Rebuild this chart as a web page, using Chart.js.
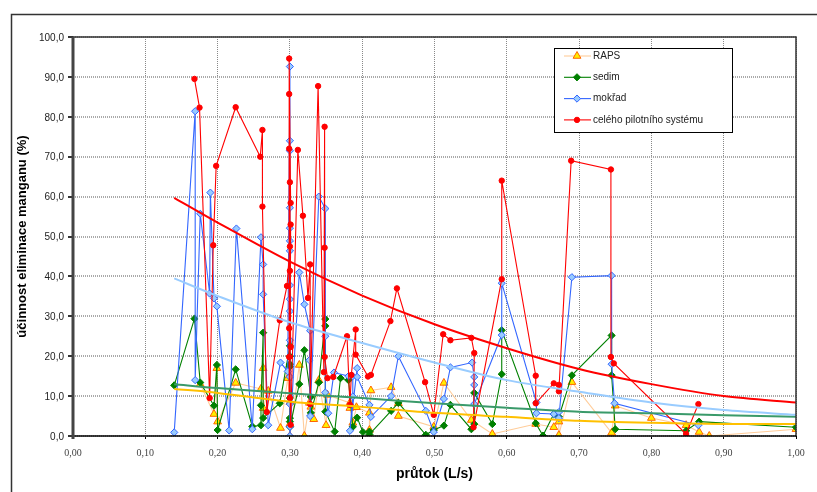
<!DOCTYPE html>
<html>
<head>
<meta charset="utf-8">
<title>účinnost eliminace manganu</title>
<script src="https://cdn.jsdelivr.net/npm/chart.js@4"></script>
<style>
  html, body { margin: 0; padding: 0; background: #fff; }
  #wrap { width: 817px; height: 492px; }
</style>
</head>
<body>
<div id="wrap"><canvas id="chart" width="817" height="492"></canvas></div>
<script>
// values
const rapsX = [0.176, 0.195, 0.199, 0.2, 0.225, 0.26, 0.263, 0.263, 0.27, 0.287, 0.297, 0.3, 0.3, 0.3, 0.313, 0.32, 0.327, 0.329, 0.333, 0.34, 0.35, 0.352, 0.383, 0.383, 0.387, 0.392, 0.41, 0.41, 0.41, 0.412, 0.44, 0.45, 0.45, 0.499, 0.513, 0.551, 0.58, 0.64, 0.665, 0.672, 0.672, 0.69, 0.745, 0.75, 0.8, 0.848, 0.866, 0.88, 1.0];
const rapsY = [13, 5.5, 17, 3.6, 13.3, 11.8, 17, 7, 11.3, 2, 14.5, 8.5, 3, 0, 17.8, 0, 8.3, 7.3, 4.2, 14, 2.7, 10.3, 8.3, 7, 3.3, 7.2, 5.8, 1.5, 0.2, 11.4, 12.2, 8.2, 5, 2.3, 13.3, 4, 0.5, 3, 2.2, 3.6, 0.2, 13.5, 0.8, 7.6, 4.5, 2.7, 1, 0, 1.7];

const sedimX = [0.14, 0.168, 0.176, 0.195, 0.199, 0.2, 0.225, 0.248, 0.26, 0.26, 0.263, 0.263, 0.286, 0.3, 0.3, 0.3, 0.3, 0.3, 0.3, 0.3, 0.3, 0.313, 0.32, 0.329, 0.329, 0.34, 0.349, 0.349, 0.349, 0.362, 0.37, 0.381, 0.387, 0.393, 0.401, 0.41, 0.41, 0.44, 0.45, 0.488, 0.499, 0.513, 0.522, 0.551, 0.555, 0.555, 0.58, 0.593, 0.593, 0.64, 0.65, 0.665, 0.672, 0.69, 0.745, 0.745, 0.75, 0.848, 0.866, 1.0];
const sedimY = [12.7, 29.4, 13.4, 7.6, 17.8, 1.5, 16.7, 2.4, 2.7, 7.7, 25.9, 4.5, 8.2, 22.6, 20, 18, 17.4, 9.5, 4.5, 3.6, 2.3, 13, 21.5, 9.8, 5.8, 13.4, 29.3, 27.6, 6.1, 1.1, 14.5, 14, 2.3, 4.6, 1, 1.1, 0.4, 6.3, 8.3, 0.3, 1.5, 2.6, 7.8, 1.7, 3, 10.8, 3, 15.5, 26.5, 3.2, 0.1, 5.5, 4.8, 15.2, 25.2, 15.2, 1.7, 1.3, 3.6, 2.2];

const mokradX = [0.14, 0.169, 0.169, 0.176, 0.189, 0.19, 0.195, 0.199, 0.216, 0.226, 0.248, 0.26, 0.263, 0.263, 0.27, 0.287, 0.297, 0.3, 0.3, 0.3, 0.3, 0.3, 0.3, 0.3, 0.3, 0.3, 0.3, 0.3, 0.3, 0.3, 0.3, 0.3, 0.313, 0.32, 0.328, 0.327, 0.328, 0.34, 0.349, 0.349, 0.349, 0.353, 0.361, 0.381, 0.387, 0.387, 0.383, 0.393, 0.393, 0.41, 0.412, 0.44, 0.45, 0.488, 0.499, 0.513, 0.522, 0.552, 0.555, 0.555, 0.555, 0.593, 0.593, 0.641, 0.641, 0.665, 0.672, 0.672, 0.69, 0.745, 0.745, 0.749, 0.865];
const mokradY = [0.9, 81.4, 14, 55.7, 35.7, 61, 34.5, 32.5, 1.4, 52, 1.7, 49.8, 43, 35.5, 2.7, 18.4, 16.2, 92.6, 74, 71.5, 57.2, 52.1, 48.9, 46.4, 37.8, 34.3, 31.3, 24, 14.8, 8, 2.3, 0, 41, 33, 26.4, 19, 5, 60, 57, 25, 10.9, 5.7, 15.9, 15, 15, 9.9, 1.3, 17, 14.8, 7.8, 4.8, 10, 20, 6.3, 1, 9.3, 17.2, 18.4, 14.8, 12.8, 8, 25.3, 38.3, 8.4, 5.7, 5.5, 6, 4.5, 39.8, 40.2, 18, 8.2, 2.7];

const celyX = [0.168, 0.175, 0.189, 0.194, 0.198, 0.225, 0.259, 0.262, 0.262, 0.268, 0.286, 0.296, 0.3, 0.299, 0.301, 0.299, 0.3, 0.299, 0.301, 0.3, 0.299, 0.301, 0.3, 0.299, 0.301, 0.311, 0.318, 0.325, 0.328, 0.328, 0.339, 0.347, 0.348, 0.348, 0.348, 0.352, 0.36, 0.379, 0.383, 0.385, 0.391, 0.391, 0.408, 0.412, 0.439, 0.448, 0.487, 0.499, 0.512, 0.522, 0.551, 0.555, 0.554, 0.593, 0.593, 0.64, 0.64, 0.665, 0.672, 0.672, 0.689, 0.744, 0.744, 0.748, 0.848, 0.865];
const celyY = [89.5, 82.3, 9.5, 47.8, 67.7, 82.4, 70, 76.7, 57.5, 6, 29, 37.6, 47.5, 94.6, 58.4, 85.7, 41.4, 72, 22.3, 63.6, 19.8, 53, 9.5, 27, 2.8, 71.7, 55.2, 34.6, 43, 8, 87.7, 16, 77.5, 47.2, 19.8, 14.5, 14.8, 25, 7.8, 15.3, 26.7, 20.4, 14.9, 15.3, 28.8, 37, 13.5, 5.3, 25.5, 24, 24.6, 20.8, 2.2, 39.3, 64, 15.1, 8.2, 13.2, 12.8, 11.2, 69, 66.8, 19.8, 18.2, 0.5, 8];

// trend lines, sampled along the reference curves
const trendX = [0.14, 0.2, 0.3, 0.4, 0.5, 0.6, 0.7, 0.8, 0.9, 1.0];
const trendRaps = [11.8, 10.8, 8.6, 7.3, 5.8, 4.8, 3.8, 3.3, 3.0, 3.0];
const trendSedim = [13, 12, 10.7, 9.5, 8.2, 7.1, 6.1, 5.7, 5.2, 4.8];
const trendMokrad = [39.5, 35.1, 28.5, 23.3, 18.4, 14, 11.1, 8.4, 6.5, 5.3];
const trendCely = [59.7, 53.5, 43.7, 35.2, 28, 22, 16.8, 13, 10, 8.4];

const xTicks = [0, 0.1, 0.2, 0.3, 0.4, 0.5, 0.6, 0.7, 0.8, 0.9, 1];
const legendNames = ["RAPS", "sedim", "mokřad", "celého pilotního systému"];

function pts(xs, ys) {
  return xs.map((x, i) => ({ x: x, y: ys[i] }));
}

function series(label, xs, ys, line, fill, border, style, radius, order) {
  return {
    label: label,
    data: pts(xs, ys),
    showLine: true,
    tension: 0,
    borderColor: line,
    borderWidth: 1.1,
    pointStyle: style,
    pointRadius: radius,
    pointBackgroundColor: fill,
    pointBorderColor: border,
    pointBorderWidth: 1,
    order: order,
  };
}

function trend(xs, ys, color, order) {
  return {
    data: pts(xs, ys),
    showLine: true,
    tension: 0.3,
    borderColor: color,
    borderWidth: 2,
    pointRadius: 0,
    order: order,
  };
}

const datasets = [
  series(legendNames[0], rapsX, rapsY, "#ffcc99", "#ffee00", "#ff6600", "triangle", 4.5, 8),
  series(legendNames[1], sedimX, sedimY, "#008000", "#008000", "#008000", "rectRot", 3.6, 7),
  series(legendNames[2], mokradX, mokradY, "#3366ff", "#99ccff", "#3366ff", "rectRot", 3.6, 6),
  series(legendNames[3], celyX, celyY, "#ff0000", "#ff0000", "#ff0000", "circle", 2.7, 5),
  trend(trendX, trendRaps, "#ffc000", 4),
  trend(trendX, trendSedim, "#3a9a6a", 3),
  trend(trendX, trendMokrad, "#99ccff", 2),
  trend(trendX, trendCely, "#ff0000", 1),
];

// outer frame (runs off the right and bottom of the picture) and the plot border
const framePlugin = {
  id: "frame",
  beforeDraw(chart) {
    const c = chart.ctx;
    c.save();
    c.fillStyle = "#fff";
    c.fillRect(0, 0, chart.width, chart.height);
    c.strokeStyle = "#333";
    c.lineWidth = 1.5;
    c.beginPath();
    c.moveTo(11.5, 492);
    c.lineTo(11.5, 14.5);
    c.lineTo(817, 14.5);
    c.stroke();
    c.restore();
  },
  afterDatasetsDraw(chart) {
    const a = chart.chartArea;
    const c = chart.ctx;
    c.save();
    c.strokeStyle = "#333";
    c.lineWidth = 1.5;
    c.beginPath();
    c.moveTo(a.left, a.top);
    c.lineTo(a.right, a.top);
    c.lineTo(a.right, a.bottom);
    c.stroke();
    c.strokeStyle = "#000";
    c.beginPath();
    c.moveTo(a.left, a.bottom);
    c.lineTo(a.right, a.bottom);
    c.stroke();
    c.strokeStyle = "#444";
    c.lineWidth = 3;
    c.beginPath();
    c.moveTo(a.left, a.top);
    c.lineTo(a.left, a.bottom + 3);
    c.stroke();
    c.restore();
  },
};

// legend box sits inside the plot, like the original
const legendPlugin = {
  id: "boxLegend",
  afterDraw(chart) {
    const c = chart.ctx;
    const left = 554, top = 48, w = 178, h = 84;
    c.save();
    c.fillStyle = "#fff";
    c.fillRect(left, top, w, h);
    c.strokeStyle = "#000";
    c.lineWidth = 1;
    c.strokeRect(left + 0.5, top + 0.5, w, h);
    c.font = "10px 'Liberation Sans'";
    c.textBaseline = "middle";
    legendNames.forEach((name, i) => {
      const ds = chart.data.datasets[i];
      const y = 56 + i * 21.3;
      c.strokeStyle = ds.borderColor;
      c.lineWidth = 1.1;
      c.beginPath();
      c.moveTo(left + 10, y);
      c.lineTo(left + 37, y);
      c.stroke();
      c.fillStyle = ds.pointBackgroundColor;
      c.strokeStyle = ds.pointBorderColor;
      c.lineWidth = 1;
      Chart.helpers.drawPoint(c, { pointStyle: ds.pointStyle, radius: ds.pointRadius, rotation: 0, borderWidth: 1 }, left + 23, y);
      c.fillStyle = "#222";
      c.fillText(name, left + 39, y);
    });
    c.restore();
  },
};

new Chart(document.getElementById("chart"), {
  type: "scatter",
  data: { datasets: datasets },
  plugins: [framePlugin, legendPlugin],
  options: {
    responsive: false,
    animation: false,
    layout: { padding: { top: 37, right: 21, left: 0, bottom: 0 } },
    plugins: { legend: { display: false }, tooltip: { enabled: false } },
    scales: {
      x: {
        type: "linear",
        min: 0,
        max: 1,
        afterFit(s) { s.height = 56; },
        afterBuildTicks(s) { s.ticks = xTicks.map(v => ({ value: v })); },
        grid: { color: "#888", lineWidth: 1, tickColor: "#000", tickLength: 3 },
        border: { display: false, dash: [1, 1] },
        ticks: {
          maxRotation: 0,
          autoSkip: false,
          color: "#444",
          padding: 8,
          font: { family: "'Liberation Serif'", size: 10 },
          callback: v => v.toFixed(2).replace(".", ","),
        },
        title: {
          display: true,
          text: "průtok (L/s)",
          color: "#000",
          font: { family: "'Liberation Sans'", size: 14, weight: "bold" },
          padding: { top: 0, bottom: 9 },
        },
      },
      y: {
        type: "linear",
        min: 0,
        max: 100,
        afterFit(s) { s.width = 73; },
        grid: { color: "#aaa", lineWidth: 2, tickColor: "#333", tickLength: 5 },
        border: { display: false, dash: [1, 1] },
        ticks: {
          stepSize: 10,
          color: "#222",
          padding: 4,
          labelOffset: 1,
          font: { family: "'Liberation Sans'", size: 10 },
          callback: v => v.toFixed(1).replace(".", ","),
        },
        title: {
          display: true,
          text: "účinnost eliminace manganu (%)",
          color: "#000",
          font: { family: "'Liberation Sans'", size: 13, weight: "bold" },
          padding: { top: 15, bottom: 0 },
        },
      },
    },
  },
});
</script>
</body>
</html>
